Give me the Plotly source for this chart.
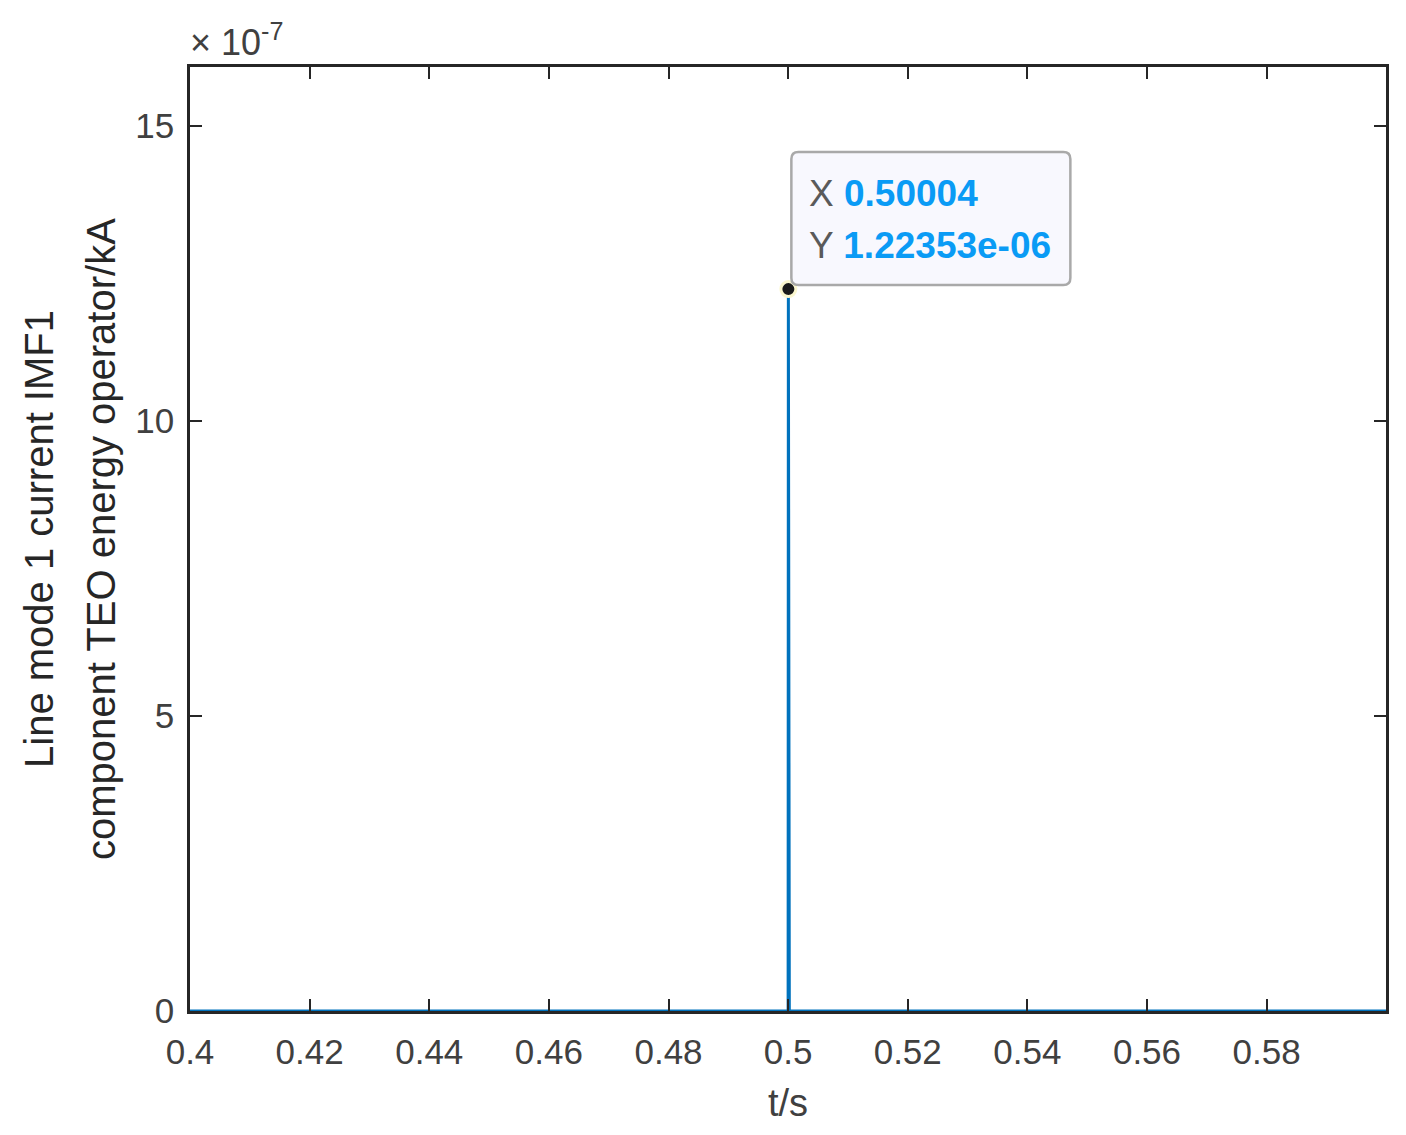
import plotly.graph_objects as go

# signal samples (t in s, TEO energy in kA units)
t = [0.4, 0.49996, 0.5, 0.50004, 0.50008, 0.50012, 0.50016, 0.5002, 0.59996]
teo = [0.0, 0.0, 0.0, 1.22353e-06, 0.0, 3.6e-08, 0.0, 0.0, 0.0]

tip_x = 0.50004
tip_y = 1.22353e-06

xtick_vals = [0.4, 0.42, 0.44, 0.46, 0.48, 0.5, 0.52, 0.54, 0.56, 0.58]
xtick_text = ['0.4', '0.42', '0.44', '0.46', '0.48', '0.5', '0.52', '0.54', '0.56', '0.58']
ytick_vals = [0, 5e-07, 10e-07, 15e-07]
ytick_text = ['0', '5', '10', '15']

ylabel_lines = ['Line mode 1 current IMF1', 'component TEO energy operator/kA']

font_family = "Liberation Sans, Arial, sans-serif"
axis_color = '#262626'
label_color = '#404040'

fig = go.Figure()

fig.add_trace(go.Scatter(
    x=t, y=teo, mode='lines',
    line=dict(color='#0072BD', width=3),
    showlegend=False, hoverinfo='skip'
))

# datatip marker
fig.add_trace(go.Scatter(
    x=[tip_x], y=[tip_y], mode='markers',
    marker=dict(color='#1a1a1a', size=15, line=dict(color='#fbf7cf', width=3)),
    showlegend=False, hoverinfo='skip', cliponaxis=False
))

# datatip box, rounded corners, in pixels relative to the point
r = 7
x0, x1, y0, y1 = 3, 282, 4, 137
path = (f"M {x0+r},{y0} L {x1-r},{y0} Q {x1},{y0} {x1},{y0+r} "
        f"L {x1},{y1-r} Q {x1},{y1} {x1-r},{y1} L {x0+r},{y1} "
        f"Q {x0},{y1} {x0},{y1-r} L {x0},{y0+r} Q {x0},{y0} {x0+r},{y0} Z")
fig.add_shape(
    type='path', path=path,
    xsizemode='pixel', ysizemode='pixel', xanchor=tip_x, yanchor=tip_y,
    xref='x', yref='y',
    fillcolor='#f8f8fe', line=dict(color='#a9a9a9', width=2.5), layer='above'
)

tip_font = dict(family=font_family, size=37)
fig.add_annotation(
    x=tip_x, y=tip_y, xref='x', yref='y', showarrow=False,
    xanchor='left', yanchor='middle', xshift=19, yshift=96,
    text=f"<span style='color:#5a5a5a'>X</span> <b style='color:#0a9bf5'>{tip_x:.5f}</b>",
    font=tip_font
)
fig.add_annotation(
    x=tip_x, y=tip_y, xref='x', yref='y', showarrow=False,
    xanchor='left', yanchor='middle', xshift=19, yshift=44,
    text=f"<span style='color:#5a5a5a'>Y</span> <b style='color:#0a9bf5'>{tip_y:.5e}</b>",
    font=tip_font
)

# exponent label
fig.add_annotation(
    x=0, y=1, xref='paper', yref='paper', showarrow=False,
    xanchor='left', yanchor='bottom', xshift=-2, yshift=2,
    text="× 10<sup>-7</sup>",
    font=dict(family=font_family, size=36, color=label_color)
)

# y label, two lines
for i, line in enumerate(ylabel_lines):
    fig.add_annotation(
        x=0, y=0.5, xref='paper', yref='paper', showarrow=False,
        xanchor='center', yanchor='middle', textangle=-90,
        xshift=-151 + 62 * i,
        text=line,
        font=dict(family=font_family, size=40, color='#262626')
    )

fig.update_xaxes(
    range=[0.4, 0.59996], tickvals=xtick_vals, ticktext=xtick_text,
    ticks='inside', ticklen=12, tickwidth=2, tickcolor=axis_color,
    showline=True, linecolor=axis_color, linewidth=2.5, mirror='ticks',
    showgrid=False, zeroline=False, ticklabelstandoff=8,
    tickfont=dict(family=font_family, size=35, color=label_color),
    title=dict(text='t/s', font=dict(family=font_family, size=38, color=label_color), standoff=20)
)
fig.update_yaxes(
    range=[0, 1.6e-06], tickvals=ytick_vals, ticktext=ytick_text,
    ticks='inside', ticklen=12, tickwidth=2, tickcolor=axis_color,
    showline=True, linecolor=axis_color, linewidth=2.5, mirror='ticks',
    showgrid=False, zeroline=False, ticklabelstandoff=6,
    tickfont=dict(family=font_family, size=35, color=label_color),
)

fig.update_layout(
    width=1390, height=1119,
    margin=dict(l=182, r=9, t=59, b=116),
    plot_bgcolor='white', paper_bgcolor='white',
    showlegend=False
)

fig.write_html("out.html")
